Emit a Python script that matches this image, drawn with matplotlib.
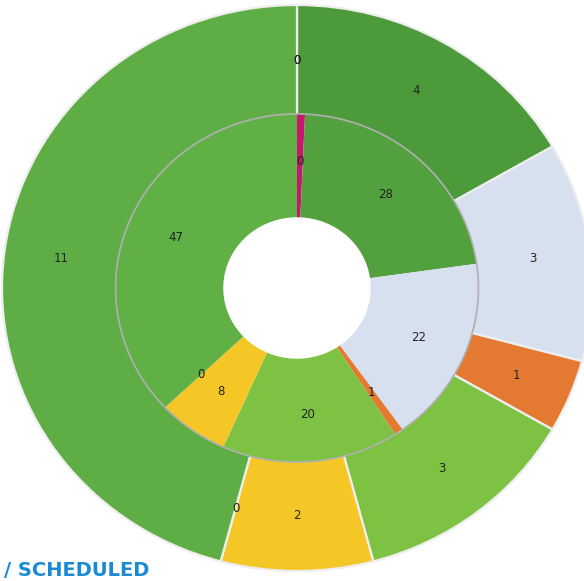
import matplotlib
matplotlib.use("Agg")
import matplotlib.pyplot as plt
import numpy as np

# Outer ring (clockwise from 12 o'clock)
outer_values = [0, 0, 4, 3, 1, 3, 2, 0, 11]
outer_colors = ["#5fae45", "#5fae45", "#4d9a3b", "#d7e0ee", "#e47a32",
                "#7dc242", "#f4c726", "#5fae45", "#5fae45"]

# Inner ring (clockwise from 12 o'clock)
inner_values = [0.9, 28, 22, 1, 20, 8, 0, 47]
inner_colors = ["#c8186e", "#52a03e", "#d7e0ee", "#e47a32",
                "#7dc242", "#f4c726", "#5fae45", "#60b046"]

W, H = 584, 581
fig = plt.figure(figsize=(W / 100, H / 100), dpi=100)
ax = fig.add_axes([0, 0, 1, 1])

outer_r, outer_w = 1.0, 0.39
inner_r, inner_w = 0.615, 0.365

w_out, _ = ax.pie(outer_values, radius=outer_r, colors=outer_colors,
                  startangle=90, counterclock=False,
                  wedgeprops=dict(width=outer_w, edgecolor="#eeeeee", linewidth=1.6))
w_in, _ = ax.pie(inner_values, radius=inner_r, colors=inner_colors,
                 startangle=90, counterclock=False,
                 wedgeprops=dict(width=inner_w, edgecolor="none", linewidth=0))

# boundary circle between rings
ring = plt.Circle((0, 0), inner_r, fill=False, edgecolor="#b0b0b0", linewidth=1.2)
ax.add_patch(ring)

def label_ring(wedges, values, shift=0.0):
    for w, v in zip(wedges, values):
        mid = np.deg2rad((w.theta1 + w.theta2) / 2)
        r = w.r - w.width / 2 + shift
        ax.text(r * np.cos(mid), r * np.sin(mid), f"{int(v)}",
                ha="center", va="center", fontsize=8.5, color="#222222")

label_ring(w_out, outer_values)
label_ring(w_in, inner_values, shift=0.015)

# map data so that centre sits at (297, 288) px, radius ~295 px horizontally, 283 px vertically
cx, cy, rx, ry = 297, 288, 295, 283
ax.set_aspect("auto")
ax.set_xlim(-cx / rx, (W - cx) / rx)
ax.set_ylim(-(H - cy) / ry, cy / ry)
ax.axis("off")

fig.text(4 / W, 1 / H, "/ SCHEDULED", ha="left", va="bottom",
         fontsize=14, fontweight="bold", color="#1a8ad4", family="DejaVu Sans")

fig.savefig("out.png", dpi=100, facecolor="white")
